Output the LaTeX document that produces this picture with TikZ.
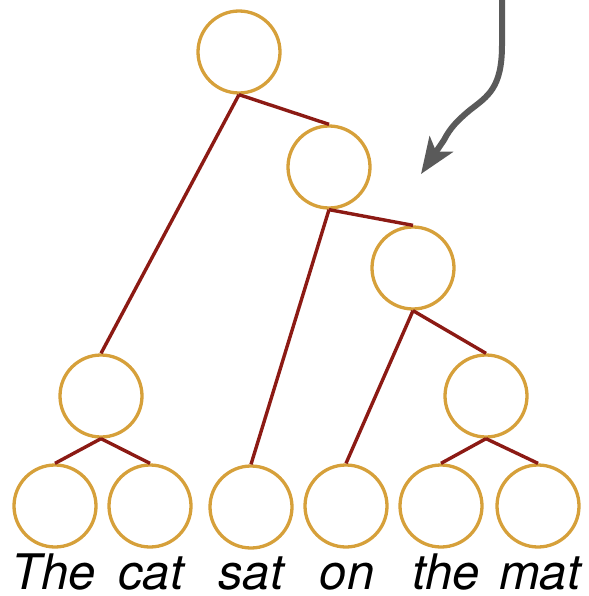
\documentclass[tikz,border=0pt]{standalone}
\usepackage{fontspec}
\setmainfont{TeX Gyre Heros}
\usetikzlibrary{arrows.meta}
\definecolor{gold}{RGB}{214,160,58}
\definecolor{branch}{RGB}{140,26,20}
\definecolor{arrowgray}{RGB}{90,90,90}
\begin{document}
\begin{tikzpicture}[x=1pt,y=-1pt,
  tnode/.style={circle,draw=gold,line width=3.3pt,minimum size=82pt,inner sep=0pt},
  edge/.style={draw=branch,line width=3.4pt},
  word/.style={anchor=base,font=\fontsize{49}{55}\selectfont\itshape,inner sep=0pt}]
\useasboundingbox (0,0) rectangle (588,596);
\node[tnode] (root) at (239,52) {};
\node[tnode] (n2) at (329,167) {};
\node[tnode] (n3) at (413,268) {};
\node[tnode] (nl) at (101,396) {};
\node[tnode] (nr) at (486,396) {};
\node[tnode] (l1) at (55,506) {};
\node[tnode] (l2) at (150,506) {};
\node[tnode] (l3) at (251,507) {};
\node[tnode] (l4) at (346,506) {};
\node[tnode] (l5) at (441,506) {};
\node[tnode] (l6) at (538,506) {};
\draw[edge] (root.south) -- (nl.north);
\draw[edge] (root.south) -- (n2.north);
\draw[edge] (n2.south) -- (l3.north);
\draw[edge] (n2.south) -- (n3.north);
\draw[edge] (n3.south) -- (l4.north);
\draw[edge] (n3.south) -- (nr.north);
\draw[edge] (nl.south) -- (l1.north);
\draw[edge] (nl.south) -- (l2.north);
\draw[edge] (nr.south) -- (l5.north);
\draw[edge] (nr.south) -- (l6.north);
\node[word] (w1) at (54,589) {The};
\node[word] (w2) at (151,589) {cat};
\node[word] (w3) at (251,589) {sat};
\node[word] (w4) at (347,589) {on};
\node[word] (w5) at (446,589) {the};
\node[word] (w6) at (540,589) {mat};
\coordinate (as) at (502,-3);
\coordinate (ae) at (421,174);
\draw[arrowgray,line width=6pt,-{Stealth[length=36pt,width=28pt,inset=9pt]}]
  (as) -- (502,45) .. controls (502,88) and (488,96) .. (470,110)
  .. controls (458,120) and (450,128) .. (444,140) -- (ae);
\end{tikzpicture}
\end{document}
